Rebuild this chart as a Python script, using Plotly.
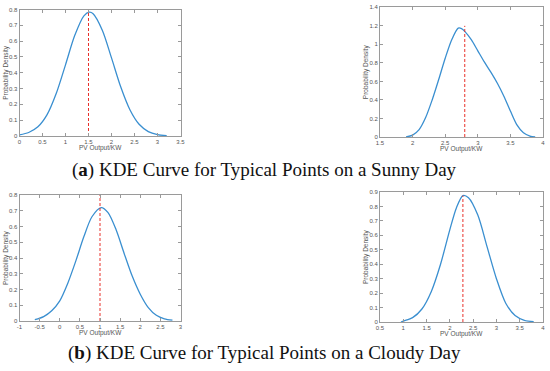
import plotly.graph_objects as go

# ---- data ----
sunny1_x = [0.0, 0.2, 0.4, 0.6, 0.8, 1.0, 1.2, 1.4, 1.52, 1.6, 1.8, 2.0, 2.2, 2.4, 2.6, 2.8, 3.0, 3.2]
sunny1_y = [0.007, 0.022, 0.058, 0.135, 0.27, 0.45, 0.635, 0.76, 0.783, 0.773, 0.669, 0.494, 0.311, 0.166, 0.074, 0.028, 0.009, 0.002]
sunny1_peak = 1.5
sunny1_top = 0.783

sunny2_x = [1.9, 2.0, 2.1, 2.2, 2.3, 2.4, 2.5, 2.6, 2.7, 2.75, 2.8, 2.9, 3.0, 3.1, 3.2, 3.3, 3.4, 3.5, 3.6, 3.7, 3.8, 3.88]
sunny2_y = [0.0, 0.02, 0.08, 0.21, 0.40, 0.62, 0.85, 1.05, 1.175, 1.17, 1.14, 1.05, 0.93, 0.81, 0.70, 0.58, 0.44, 0.28, 0.13, 0.045, 0.01, 0.0]
sunny2_peak = 2.8
sunny2_top = 1.2

cloudy1_x = [-0.62, -0.4, -0.2, 0.0, 0.2, 0.4, 0.6, 0.8, 1.03, 1.2, 1.4, 1.6, 1.8, 2.0, 2.2, 2.4, 2.6, 2.8]
cloudy1_y = [0.008, 0.028, 0.065, 0.128, 0.24, 0.382, 0.536, 0.662, 0.72, 0.688, 0.579, 0.429, 0.285, 0.17, 0.085, 0.036, 0.014, 0.005]
cloudy1_peak = 1.0
cloudy1_top = 0.8

cloudy2_x = [0.95, 1.0, 1.2, 1.4, 1.6, 1.8, 2.0, 2.14, 2.28, 2.4, 2.6, 2.8, 3.0, 3.2, 3.4, 3.6, 3.8]
cloudy2_y = [0.0, 0.006, 0.03, 0.09, 0.21, 0.40, 0.64, 0.79, 0.875, 0.86, 0.74, 0.52, 0.30, 0.13, 0.045, 0.012, 0.002]
cloudy2_peak = 2.28
cloudy2_top = 0.875

x_ranges = [[0, 3.5], [1.5, 4], [-1, 3], [0.5, 4]]
y_ranges = [[0, 0.8], [0, 1.4], [0, 0.8], [0, 0.9]]
x_ticks = [[0, 0.5, 1, 1.5, 2, 2.5, 3, 3.5],
           [1.5, 2, 2.5, 3, 3.5, 4],
           [-1, -0.5, 0, 0.5, 1, 1.5, 2, 2.5, 3],
           [0.5, 1, 1.5, 2, 2.5, 3, 3.5, 4]]
y_ticks = [[0, 0.1, 0.2, 0.3, 0.4, 0.5, 0.6, 0.7, 0.8],
           [0, 0.2, 0.4, 0.6, 0.8, 1, 1.2, 1.4],
           [0, 0.1, 0.2, 0.3, 0.4, 0.5, 0.6, 0.7, 0.8],
           [0, 0.1, 0.2, 0.3, 0.4, 0.5, 0.6, 0.7, 0.8, 0.9]]

x_title = "PV Output/KW"
y_title = "Probability Density"
captions = ["(<b>a</b>) KDE Curve for Typical Points on a Sunny Day",
            "(<b>b</b>) KDE Curve for Typical Points on a Cloudy Day"]

series = [(sunny1_x, sunny1_y, sunny1_peak, sunny1_top),
          (sunny2_x, sunny2_y, sunny2_peak, sunny2_top),
          (cloudy1_x, cloudy1_y, cloudy1_peak, cloudy1_top),
          (cloudy2_x, cloudy2_y, cloudy2_peak, cloudy2_top)]

# ---- layout ----
W, H = 550, 371
boxes = [(19.5, 180.5, 9.5, 136), (380, 543, 7.3, 137), (19.5, 180.5, 195, 321), (380, 543, 192, 322)]
ytitle_x = [6, 366, 6, 366]

fig = go.Figure()
layout = dict(width=W, height=H, margin=dict(l=0, r=0, t=0, b=0, autoexpand=False),
              paper_bgcolor="white", plot_bgcolor="white", showlegend=False)
small = dict(family="Liberation Sans", size=6, color="#555555")
annotations = []

for i, ((xs, ys, pk, top), (x0, x1, y0, y1)) in enumerate(zip(series, boxes)):
    n = i + 1
    xa = "x" if n == 1 else f"x{n}"
    ya = "y" if n == 1 else f"y{n}"
    fig.add_trace(go.Scatter(x=xs, y=ys, mode="lines",
                             line=dict(color="#3a8fd0", width=1.3, shape="spline", smoothing=0.8),
                             xaxis=xa, yaxis=ya, hoverinfo="skip"))
    fig.add_trace(go.Scatter(x=[pk, pk], y=[0, top], mode="lines",
                             line=dict(color="#e8302a", width=1, dash="3px,2px"),
                             xaxis=xa, yaxis=ya, hoverinfo="skip"))
    axcommon = dict(showgrid=False, zeroline=False, showline=True, linecolor="#9a9a9a", linewidth=1,
                    mirror="ticks", ticks="inside", ticklen=3, tickcolor="#9a9a9a",
                    tickfont=small, automargin=False)
    layout["xaxis" if n == 1 else f"xaxis{n}"] = dict(axcommon, domain=[x0 / W, x1 / W], range=x_ranges[i],
                                                      tickmode="array", tickvals=x_ticks[i],
                                                      ticktext=[f"{v:g}" for v in x_ticks[i]], anchor=ya)
    layout["yaxis" if n == 1 else f"yaxis{n}"] = dict(axcommon, domain=[1 - y1 / H, 1 - y0 / H], range=y_ranges[i],
                                                      tickmode="array", tickvals=y_ticks[i],
                                                      ticktext=[f"{v:g}" for v in y_ticks[i]], anchor=xa)
    annotations.append(dict(text=x_title, x=(x0 + x1) / 2 / W, y=1 - (y1 + 12) / H, xref="paper", yref="paper",
                            showarrow=False, font=dict(small, size=6.5), xanchor="center", yanchor="middle"))
    annotations.append(dict(text=y_title, x=ytitle_x[i] / W, y=1 - (y0 + y1) / 2 / H, xref="paper", yref="paper",
                            showarrow=False, font=dict(small, size=6.5), textangle=-90,
                            xanchor="center", yanchor="middle"))

annotations.append(dict(text=captions[0], x=264 / W, y=1 - 170 / H, xref="paper", yref="paper", showarrow=False,
                        font=dict(family="Liberation Serif", size=19, color="#111111"), xanchor="center", yanchor="middle"))
annotations.append(dict(text=captions[1], x=264 / W, y=1 - 353 / H, xref="paper", yref="paper", showarrow=False,
                        font=dict(family="Liberation Serif", size=19, color="#111111"), xanchor="center", yanchor="middle"))
layout["annotations"] = annotations
fig.update_layout(**layout)

fig.write_html("out.html", config={"displayModeBar": False, "staticPlot": True},
               post_script="document.body.style.margin='0';document.body.style.overflow='hidden';")
